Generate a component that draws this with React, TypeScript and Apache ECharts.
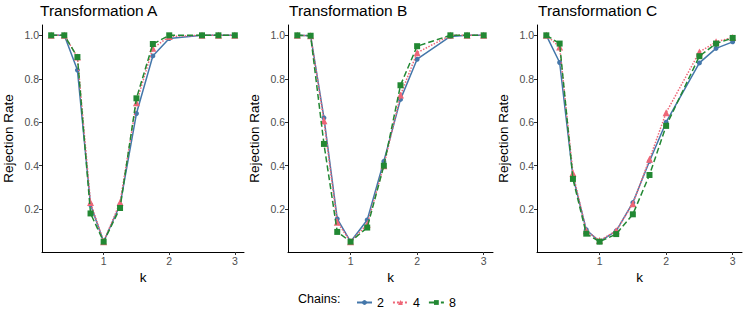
import React, { useEffect, useRef } from "react";
import * as echarts from "echarts";

const kValues = [0.2, 0.4, 0.6, 0.8, 1, 1.25, 1.5, 1.75, 2, 2.5, 2.75, 3];

const panelTitles = ["Transformation A", "Transformation B", "Transformation C"];
const chainNames = ["2", "4", "8"];

const a2 = [1, 1, 0.84, 0.22, 0.05, 0.22, 0.64, 0.905, 0.985, 1, 1, 1];
const a4 = [1, 1, 0.9, 0.23, 0.05, 0.23, 0.69, 0.94, 0.995, 1, 1, 1];
const a8 = [1, 1, 0.9, 0.18, 0.05, 0.205, 0.71, 0.96, 1, 1, 1, 1];

const b2 = [1, 0.998, 0.62, 0.155, 0.05, 0.15, 0.42, 0.705, 0.89, 0.995, 1, 1];
const b4 = [1, 0.998, 0.607, 0.14, 0.05, 0.13, 0.4, 0.725, 0.92, 1, 1, 1];
const b8 = [1, 0.998, 0.5, 0.095, 0.05, 0.115, 0.4, 0.77, 0.95, 1, 1, 1];

const c2 = [1, 0.875, 0.35, 0.105, 0.05, 0.1, 0.23, 0.42, 0.6, 0.873, 0.94, 0.97];
const c4 = [1, 0.946, 0.365, 0.1, 0.055, 0.1, 0.225, 0.43, 0.644, 0.923, 0.97, 0.99];
const c8 = [1, 0.962, 0.339, 0.087, 0.05, 0.085, 0.176, 0.357, 0.583, 0.904, 0.962, 0.988];

const xTicks = [1, 2, 3];
const yTicks = [0.2, 0.4, 0.6, 0.8, 1.0];

const panels = [
  [a2, a4, a8],
  [b2, b4, b8],
  [c2, c4, c8],
];

const colors = ["#4477AA", "#EE6677", "#228833"];
const symbols = ["circle", "triangle", "rect"];
const symbolSizes = [5, 7, 6];
const lineTypes: any[] = ["solid", "dotted", "dashed"];
const gridLefts = [39, 288, 537];

const FONT = "Liberation Sans, Arial, Helvetica, sans-serif";

export default function App() {
  const ref = useRef<HTMLDivElement>(null);
  useEffect(() => {
    document.body.style.margin = "0";
    const chart = echarts.init(ref.current!, null, { renderer: "svg" });
    const grids = gridLefts.map((l) => ({ left: l, width: 205, top: 25, height: 227 }));
    const xAxes = gridLefts.map((_, i) => ({
      type: "value",
      gridIndex: i,
      min: 0.06,
      max: 3.14,
      name: "k",
      nameLocation: "middle",
      nameGap: 14,
      nameTextStyle: { color: "#000", fontSize: 13.5, fontFamily: FONT },
      splitLine: { show: false },
      axisLine: { show: true, onZero: false, lineStyle: { color: "#000", width: 1 } },
      axisTick: { show: true, length: 3, customValues: xTicks, lineStyle: { color: "#333" } },
      axisLabel: { customValues: xTicks, color: "#4D4D4D", fontSize: 10.5, margin: 3, fontFamily: FONT },
    }));
    const yAxes = gridLefts.map((_, i) => ({
      type: "value",
      gridIndex: i,
      min: 0.0025,
      max: 1.0475,
      name: "Rejection Rate",
      nameLocation: "middle",
      nameGap: 27,
      nameTextStyle: { color: "#000", fontSize: 13.5, fontFamily: FONT },
      splitLine: { show: false },
      axisLine: { show: true, onZero: false, lineStyle: { color: "#000", width: 1 } },
      axisTick: { show: true, length: 3, customValues: yTicks, lineStyle: { color: "#333" } },
      axisLabel: {
        customValues: yTicks,
        color: "#4D4D4D",
        fontSize: 10.5,
        margin: 3,
        fontFamily: FONT,
        formatter: (v: number) => v.toFixed(1),
      },
    }));
    const series: any[] = [];
    panels.forEach((pdata, pi) => {
      pdata.forEach((vals, ci) => {
        series.push({
          type: "line",
          name: chainNames[ci],
          xAxisIndex: pi,
          yAxisIndex: pi,
          data: kValues.map((k, j) => [k, vals[j]]),
          symbol: symbols[ci],
          symbolSize: symbolSizes[ci],
          showSymbol: true,
          color: colors[ci],
          lineStyle: { color: colors[ci], width: 1.5, type: lineTypes[ci] },
          itemStyle: { color: colors[ci] },
          z: 2 + ci,
        });
      });
    });
    chart.setOption({
      animation: false,
      textStyle: { fontFamily: FONT },
      grid: grids,
      xAxis: xAxes,
      yAxis: yAxes,
      title: panelTitles.map((t, i) => ({
        text: t,
        left: gridLefts[i] + 1,
        top: 2,
        padding: 0,
        textStyle: { fontSize: 15.5, fontWeight: "normal", color: "#000", fontFamily: FONT },
      })),
      legend: {
        data: chainNames,
        left: 351,
        top: 291,
        itemWidth: 15,
        itemHeight: 6,
        itemGap: 8,
        textStyle: { fontSize: 12.5, color: "#000", fontFamily: FONT },
      },
      graphic: [
        {
          type: "text",
          left: 298,
          top: 292,
          style: { text: "Chains:", fontSize: 12.5, fill: "#000", fontFamily: FONT },
        },
      ],
      series,
    });
    return () => chart.dispose();
  }, []);
  return <div ref={ref} style={{ width: 747, height: 312 }} />;
}
